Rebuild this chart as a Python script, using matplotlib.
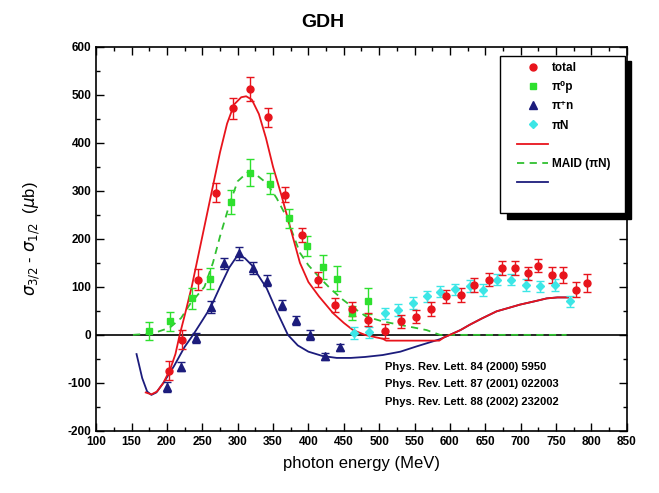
import matplotlib
matplotlib.use('Agg')
import matplotlib.pyplot as plt
from matplotlib.patches import Rectangle
from matplotlib.lines import Line2D
from matplotlib.ticker import MultipleLocator

plt.rcParams['font.family'] = ['Liberation Sans', 'DejaVu Sans']
plt.rcParams['axes.unicode_minus'] = False

# measured points (photon energy MeV, sigma32 - sigma12 in microbarn, error)
total_e = [203, 221, 244, 269, 293, 318, 343, 367, 391, 414, 438, 461, 484, 508, 531, 552, 574, 595, 616,
           634, 655, 673, 692, 711, 725, 744, 760, 778, 794]
total_v = [-75, -10, 115, 296, 472, 512, 453, 292, 208, 115, 62, 54, 32, 8, 28, 38, 54, 80, 83,
           104, 115, 139, 139, 128, 144, 125, 125, 94, 108]
total_err = [20, 20, 22, 20, 22, 25, 20, 15, 15, 15, 14, 14, 14, 14, 14, 14, 14, 14, 14,
             14, 14, 14, 14, 14, 14, 16, 16, 16, 18]

p0_e = [174, 205, 235, 261, 290, 318, 345, 372, 398, 421, 441, 461, 484]
p0_v = [8, 28, 76, 117, 276, 338, 315, 243, 185, 142, 117, 45, 71]
p0_err = [18, 20, 22, 22, 25, 28, 22, 20, 20, 25, 26, 15, 27]

pn_e = [200, 220, 241, 262, 280, 302, 321, 342, 362, 382, 402, 423, 444]
pn_v = [-109, -66, -7, 58, 149, 170, 139, 113, 62, 30, 0, -45, -26]
pn_err = [10, 10, 10, 12, 12, 13, 12, 12, 10, 10, 10, 8, 8]

piN_e = [465, 486, 508, 527, 548, 567, 586, 607, 628, 647, 667, 687, 708, 727, 748, 770]
piN_v = [4, 5, 45, 52, 66, 80, 90, 95, 102, 94, 115, 115, 104, 101, 104, 70]
piN_err = [12] * len(piN_e)

# model curves
maid_tot_e = [170, 178, 186, 195, 205, 212, 218, 225, 235, 245, 255, 265, 275, 285, 295, 305, 312, 320,
              330, 340, 350, 362, 375, 388, 400, 415, 435, 450, 463, 480, 495, 505, 510, 585, 592, 600,
              615, 628, 645, 666, 685, 699, 720, 737, 752, 767]
maid_tot_v = [-120, -124, -118, -100, -70, -40, 0, 40, 100, 170, 240, 310, 380, 440, 480, 495, 497, 490,
              460, 410, 350, 290, 220, 150, 110, 80, 45, 25, 10, 0, -5, -8, -12, -12, -5, 0,
              10, 21, 34, 49, 57, 63, 70, 76, 78, 78]

maid_pn_e = [157, 165, 172, 178, 185, 195, 210, 225, 237, 250, 262, 275, 288, 300, 310, 320, 330, 341,
             355, 371, 385, 400, 420, 440, 460, 480, 505, 530, 553, 575, 586, 600, 615, 628, 645, 666,
             685, 699, 720, 737, 752, 767]
maid_pn_v = [-40, -90, -118, -125, -120, -100, -65, -25, 0, 30, 58, 100, 140, 166, 160, 145, 122, 97,
             50, 0, -22, -35, -44, -48, -48, -46, -42, -35, -24, -14, -9, 0, 10, 21, 34, 49,
             57, 63, 70, 76, 78, 78]

maid_piN_e = [152, 180, 204, 220, 233, 253, 265, 275, 289, 300, 315, 325, 341, 355, 369, 388, 400, 416,
              432, 449, 465, 482, 505, 529, 550, 567, 586, 765]
maid_piN_v = [0, 3, 15, 35, 65, 100, 150, 205, 275, 320, 340, 335, 316, 285, 246, 171, 145, 119,
              95, 73, 55, 38, 28, 21, 15, 10, 0, 0]

refs = ["Phys. Rev. Lett. 84 (2000) 5950",
        "Phys. Rev. Lett. 87 (2001) 022003",
        "Phys. Rev. Lett. 88 (2002) 232002"]

RED = '#e8141c'
GREEN = '#2ee02e'
NAVY = '#1c1c7c'
CYAN = '#3ce6e6'

fig = plt.figure(figsize=(6.59, 4.93), dpi=100)
ax = fig.add_axes([0.146, 0.126, 0.805, 0.779])

ax.axhline(0, color='black', lw=1.2, zorder=1)

ax.plot(maid_pn_e, maid_pn_v, color=NAVY, lw=1.3, zorder=2)
ax.plot(maid_piN_e, maid_piN_v, color='#30c030', lw=1.3, ls=(0, (4, 3)), zorder=2)
ax.plot(maid_tot_e, maid_tot_v, color=RED, lw=1.3, zorder=3)

ebkw = dict(ls='none', capsize=3, elinewidth=1.0, capthick=1.0, zorder=4)
ax.errorbar(p0_e, p0_v, yerr=p0_err, fmt='s', color=GREEN, ms=5, **ebkw)
ax.errorbar(pn_e, pn_v, yerr=pn_err, fmt='^', color=NAVY, ms=5.5, **ebkw)
ax.errorbar(piN_e, piN_v, yerr=piN_err, fmt='D', color=CYAN, ms=4.5, **ebkw)
ax.errorbar(total_e, total_v, yerr=total_err, fmt='o', color=RED, ms=5, **ebkw)

for i, r in enumerate(refs):
    ax.text(508, -67 - 36 * i, r, fontsize=8, fontweight='bold', va='center', ha='left')

ax.set_xlim(100, 850)
ax.set_ylim(-200, 600)
ax.xaxis.set_major_locator(MultipleLocator(50))
ax.xaxis.set_minor_locator(MultipleLocator(25))
ax.yaxis.set_major_locator(MultipleLocator(100))
ax.yaxis.set_minor_locator(MultipleLocator(50))
ax.tick_params(which='both', direction='in', top=True, right=True, width=1.0)
ax.tick_params(which='major', length=6, labelsize=8.5)
ax.tick_params(which='minor', length=3)
for lbl in ax.get_xticklabels() + ax.get_yticklabels():
    lbl.set_fontweight('bold')
for s in ax.spines.values():
    s.set_linewidth(1.2)

ax.set_xlabel("photon energy (MeV)", fontsize=12, labelpad=6)
ax.set_ylabel(r"$\sigma_{3/2}$ - $\sigma_{1/2}$  ($\mu$b)", fontsize=12, labelpad=18)
fig.text(0.49, 0.955, "GDH", fontsize=14, fontweight='bold', ha='center', va='center')

# legend box with a solid black drop shadow
ax.add_patch(Rectangle((0.774, 0.553), 0.235, 0.409, transform=ax.transAxes,
                       facecolor='black', edgecolor='black', clip_on=False, zorder=5))
ax.add_patch(Rectangle((0.761, 0.568), 0.235, 0.409, transform=ax.transAxes,
                       facecolor='white', edgecolor='black', lw=1.0, clip_on=False, zorder=6))
handles = [
    Line2D([], [], ls='none', marker='o', color=RED, ms=5),
    Line2D([], [], ls='none', marker='s', color=GREEN, ms=5),
    Line2D([], [], ls='none', marker='^', color=NAVY, ms=5.5),
    Line2D([], [], ls='none', marker='D', color=CYAN, ms=4.5),
    Line2D([], [], color=RED, lw=1.3),
    Line2D([], [], color='#30c030', lw=1.3, ls=(0, (4, 3))),
    Line2D([], [], color=NAVY, lw=1.3),
]
labels = ["total", "π⁰p", "π⁺n", "πN", "", "MAID (πN)", ""]
leg = ax.legend(handles, labels, loc='upper left', bbox_to_anchor=(0.785, 0.972), frameon=False,
                prop={'size': 8.5, 'weight': 'bold'}, handlelength=2.6, handletextpad=0.3,
                labelspacing=0.6, borderaxespad=0)
leg.set_zorder(7)

fig.savefig("out.png", dpi=100)
